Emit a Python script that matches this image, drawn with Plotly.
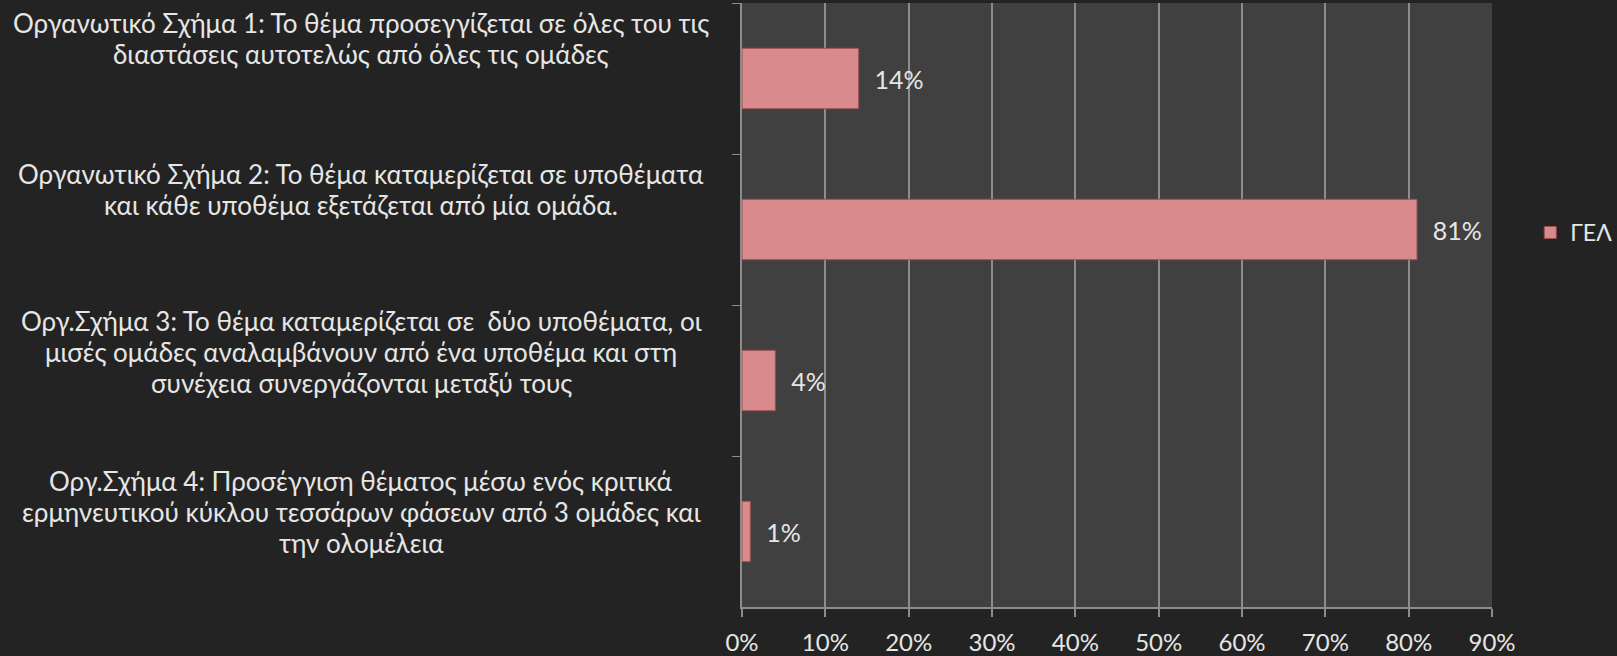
import plotly.graph_objects as go

categories = [
    "Οργανωτικό Σχήμα 1: Το θέμα προσεγγίζεται σε όλες του τις<br>διαστάσεις αυτοτελώς από όλες τις ομάδες",
    "Οργανωτικό Σχήμα 2: Το θέμα καταμερίζεται σε υποθέματα<br>και κάθε υποθέμα εξετάζεται από μία ομάδα.",
    "Οργ.Σχήμα 3: Το θέμα καταμερίζεται σε  δύο υποθέματα, οι<br>μισές ομάδες αναλαμβάνουν από ένα υποθέμα και στη<br>συνέχεια συνεργάζονται μεταξύ τους",
    "Οργ.Σχήμα 4: Προσέγγιση θέματος μέσω ενός κριτικά<br>ερμηνευτικού κύκλου τεσσάρων φάσεων από 3 ομάδες και<br>την ολομέλεια",
]
keys = ["S1", "S2", "S3", "S4"]
values = [14, 81, 4, 1]
series_name = "ΓΕΛ"
tick_vals = [0, 10, 20, 30, 40, 50, 60, 70, 80, 90]
tick_text = ["0%", "10%", "20%", "30%", "40%", "50%", "60%", "70%", "80%", "90%"]

FONT = "Lato"
TXT = "#e6e6e6"
label_centers = [40, 40, 29, 20]   # upward shift of each label block centre
LINE_H = 31

fig = go.Figure()
fig.add_trace(go.Bar(
    y=keys, x=values, orientation="h", name=series_name,
    marker=dict(color="#d98a8c", line=dict(color="#9a5050", width=1)),
    text=[f"\u00a0\u00a0{v}%" for v in values],
    textposition="outside", cliponaxis=False,
    textfont=dict(family=FONT, size=25, color=TXT),
    width=0.4,
))

for k, lab, sh in zip(keys, categories, label_centers):
    lines = lab.split("<br>")
    n = len(lines)
    for i, ln in enumerate(lines):
        fig.add_annotation(
            x=(361 - 742) / 750, xref="paper", y=k, yref="y",
            yshift=sh + ((n - 1) / 2 - i) * LINE_H,
            text=ln, showarrow=False, xanchor="center", yanchor="middle",
            font=dict(family=FONT, size=26, color=TXT),
        )

fig.update_layout(
    width=1617, height=656,
    margin=dict(l=742, r=125, t=3, b=49, autoexpand=False),
    paper_bgcolor="#232323", plot_bgcolor="#404040",
    showlegend=True,
    legend=dict(x=1.051, y=0.62, xanchor="left", yanchor="middle",
                font=dict(family=FONT, size=23, color=TXT),
                bgcolor="rgba(0,0,0,0)", itemwidth=30),
    bargap=0.6,
    font=dict(family=FONT, color=TXT),
)
fig.update_xaxes(
    range=[0, 90], tickvals=tick_vals, ticktext=tick_text,
    showgrid=True, gridcolor="#8c8c8c", gridwidth=2,
    showline=True, linecolor="#8c8c8c", linewidth=2,
    ticks="outside", ticklen=8, tickcolor="#8c8c8c", tickwidth=2,
    ticklabelstandoff=5, automargin=False,
    tickfont=dict(family=FONT, size=24, color=TXT), zeroline=False,
)
fig.update_yaxes(
    categoryorder="array", categoryarray=keys, autorange="reversed",
    showticklabels=False, showline=True, linecolor="#8c8c8c", linewidth=2,
    ticks="outside", ticklen=8, tickcolor="#8c8c8c", tickson="boundaries",
    showgrid=False, automargin=False,
)
fig.write_html("out.html", config={"displayModeBar": False},
               post_script="document.body.style.margin='0px';document.body.style.overflow='hidden';")
